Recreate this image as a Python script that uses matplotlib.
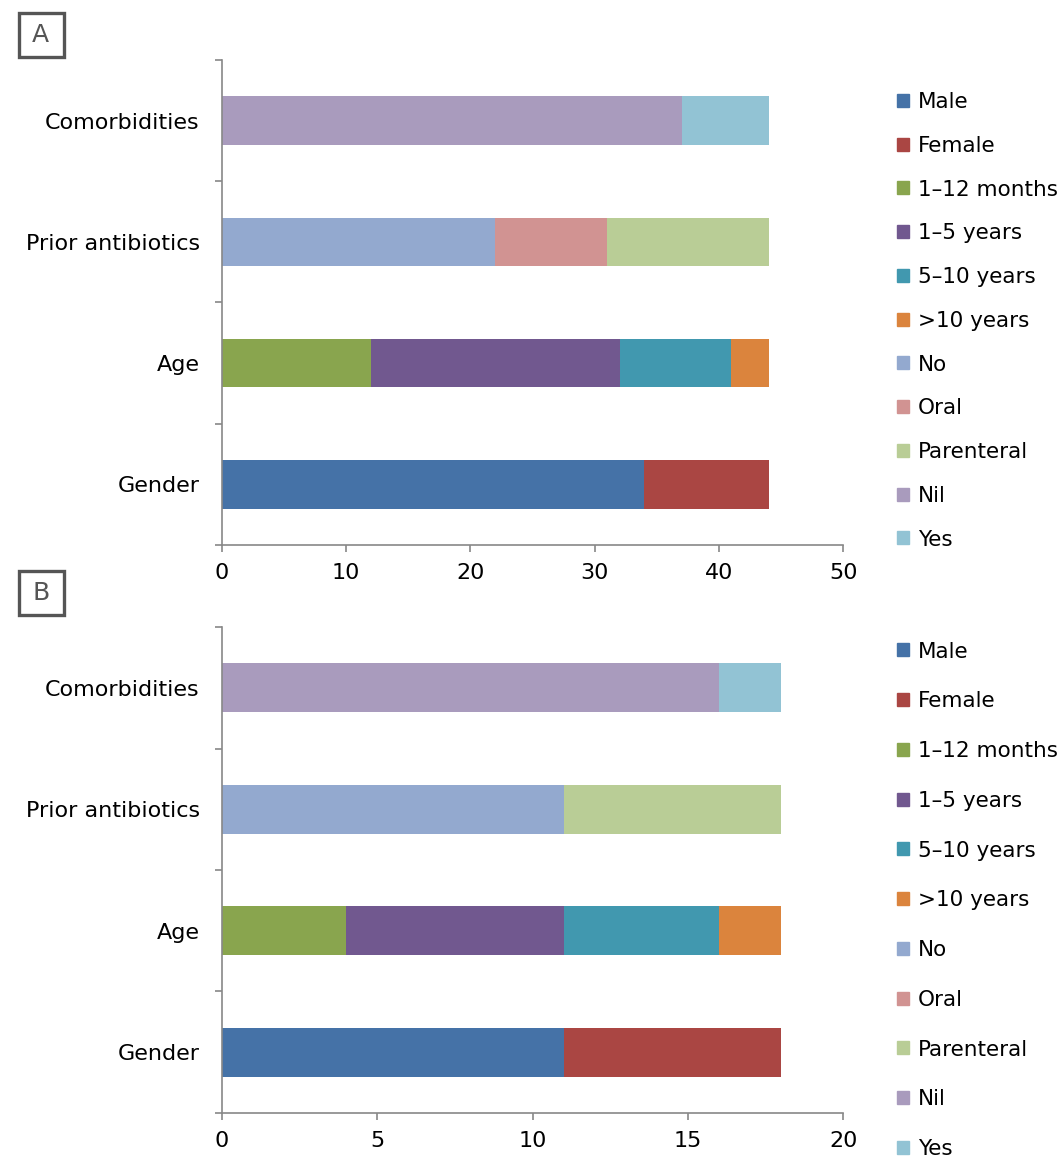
import matplotlib
matplotlib.use("Agg")
import matplotlib.pyplot as plt
from matplotlib.patches import Patch, Rectangle
import numpy as np

plt.rcParams['font.family'] = ['DejaVu Sans']

categories = ["Gender", "Age", "Prior antibiotics", "Comorbidities"]
series = ["Male", "Female", "1\u201312 months", "1\u20135 years", "5\u201310 years",
          ">10 years", "No", "Oral", "Parenteral", "Nil", "Yes"]
colors = ["#4572A7", "#AA4643", "#89A54E", "#71588F", "#4198AF", "#DB843D",
          "#93A9CF", "#D19392", "#B9CD96", "#A99BBD", "#92C3D4"]
# which category each series belongs to
series_cat = [0, 0, 1, 1, 1, 1, 2, 2, 2, 3, 3]

values_a = [34, 10, 12, 20, 9, 3, 22, 9, 13, 37, 7]
values_b = [11, 7, 4, 7, 5, 2, 11, 0, 7, 16, 2]

xmax_a, xticks_a = 50, [0, 10, 20, 30, 40, 50]
xmax_b, xticks_b = 20, [0, 5, 10, 15, 20]

W, H = 1062, 1158
fig = plt.figure(figsize=(W / 100, H / 100), dpi=100)
fs = 16
lfs = 15.5

def panel(rect, values, xmax, xticks, letter, letter_xy, leg_top, labsp):
    ax = fig.add_axes(rect)
    left = np.zeros(len(categories))
    for s, c, v, k in zip(series, colors, values, series_cat):
        w = np.zeros(len(categories))
        w[k] = v
        ax.barh(np.arange(len(categories)), w, left=left, height=0.4, color=c, label=s)
        left += w
    ax.set_xlim(0, xmax)
    ax.set_ylim(-0.5, len(categories) - 0.5)
    ax.set_xticks(xticks)
    ax.set_yticks(np.arange(len(categories) + 1) - 0.5)
    ax.set_yticklabels([])
    ax.set_yticks(np.arange(len(categories)), minor=True)
    ax.set_yticklabels(categories, minor=True)
    ax.tick_params(axis='y', which='minor', length=0, pad=16, labelsize=fs)
    ax.tick_params(axis='y', which='major', length=5, width=1.2, color='#888888')
    ax.tick_params(axis='x', length=5, width=1.2, color='#888888', pad=8, labelsize=fs)
    for sp in ['top', 'right']:
        ax.spines[sp].set_visible(False)
    for sp in ['left', 'bottom']:
        ax.spines[sp].set_color('#888888')
        ax.spines[sp].set_linewidth(1.2)
    handles = [Patch(color=c, label=s) for s, c in zip(series, colors)]
    fig.legend(handles=handles, loc='upper left', bbox_to_anchor=(0.845, leg_top),
               frameon=False, fontsize=lfs, handlelength=0.56, handleheight=0.56,
               handletextpad=0.38, labelspacing=labsp, borderpad=0, borderaxespad=0)
    # panel letter in a square box
    cx, cy = letter_xy
    fig.patches.append(Rectangle(((cx - 22) / W, 1 - (cy + 22) / H), 45 / W, 44 / H,
                                 transform=fig.transFigure, fill=False,
                                 ec='#555555', lw=2.4))
    fig.text(cx / W, 1 - cy / H, letter, fontsize=18, ha='center', va='center',
             color='#555555')
    return ax

panel([0.209, 0.5294, 0.585, 0.4188], values_a, xmax_a, xticks_a, "A", (40.5, 35), 0.9205, 1.103)
panel([0.209, 0.0389, 0.585, 0.4196], values_b, xmax_b, xticks_b, "B", (41, 592.5), 0.4460, 1.382)

fig.savefig("out.png", dpi=100)
